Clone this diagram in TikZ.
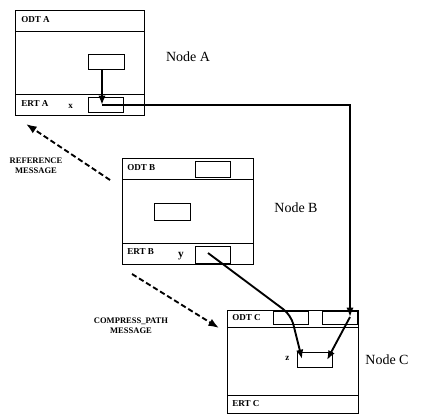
\documentclass[tikz,border=0pt]{standalone}
\usepackage{fontspec}
\setmainfont{Liberation Serif}
\usetikzlibrary{arrows.meta}
\begin{document}
\begin{tikzpicture}[x=0.75pt,y=-0.75pt,
  frame/.style={draw=black,line width=0.7pt},
  sbox/.style={draw=black,line width=0.7pt,inner sep=0pt},
  conn/.style={draw=black,line width=1.4pt,-{Latex[length=7pt,width=5.5pt]}},
  msg/.style={draw=black,line width=1.4pt,dash pattern=on 4pt off 2.2pt,-{Latex[length=8pt,width=6pt]}},
  tag/.style={font=\fontsize{6.8}{7}\selectfont\bfseries,inner sep=0pt,anchor=west},
  nlab/.style={font=\fontsize{10.5}{12}\selectfont,inner sep=0pt},
  mlab/.style={font=\fontsize{6.4}{7.4}\selectfont\bfseries,inner sep=0pt,align=center}]
\useasboundingbox (0,0) rectangle (432,414);
% ---------- Node A ----------
\draw[frame] (15,10) rectangle (144,115);
\draw[frame] (15,31) -- (144,31);
\draw[frame] (15,94) -- (144,94);
\draw[sbox] (88,54) rectangle (124,69);
\draw[sbox] (88,97) rectangle (123,112);
\node[tag] (odta) at (21,20) {ODT A};
\node[tag] (erta) at (21,104) {ERT A};
\node[tag] (xl) at (68,106) {x};
\node[nlab] (na) at (188,57) {Node A};
% ---------- Node B ----------
\draw[frame] (122,158) rectangle (253,264);
\draw[frame] (122,179) -- (253,179);
\draw[frame] (122,243) -- (253,243);
\draw[sbox] (195,161) rectangle (230,177);
\draw[sbox] (154,203) rectangle (190,220);
\draw[sbox] (195,246) rectangle (230,263);
\node[tag] (odtb) at (127,168) {ODT B};
\node[tag] (ertb) at (127,252) {ERT B};
\node[inner sep=0pt,font=\fontsize{8.5}{9}\selectfont\bfseries] (yl) at (181,256) {y};
\node[nlab] (nb) at (296,208) {Node B};
% ---------- Node C ----------
\draw[frame] (227,310) rectangle (358,413);
\draw[frame] (227,327) -- (358,327);
\draw[frame] (227,395) -- (358,395);
\draw[sbox] (273,311) rectangle (308,324);
\draw[sbox] (322,311) rectangle (357,324);
\draw[sbox] (297,352) rectangle (332,367);
\node[tag] (odtc) at (232,318) {ODT C};
\node[tag] (ertc) at (232,404) {ERT C};
\node[tag] (zl) at (285,358) {z};
\node[nlab] (nc) at (387,360) {Node C};
% ---------- message labels ----------
\node[mlab] (refl) at (36,166) {REFERENCE\\MESSAGE};
\node[mlab] (cpl) at (131,326) {COMPRESS\_PATH\\MESSAGE};
% ---------- connector points ----------
\coordinate (pA1) at (102,69);
\coordinate (pA2) at (102,105);
\coordinate (pCorner) at (350,105);
\coordinate (pC2) at (350,317);
\coordinate (pZ2) at (327,360);
\coordinate (pB) at (208,253);
\coordinate (pBend) at (291,315);
\coordinate (pZ1) at (302,359);
\coordinate (rt) at (110,180);
\coordinate (rh) at (26,124);
\coordinate (ct) at (132,274);
\coordinate (ch) at (219,328);
% ---------- connectors ----------
\draw[conn] (pA1) -- (pA2);
\draw[conn] (pA2) -- (pCorner) -- (pC2);
\draw[conn] (pC2) -- (pZ2);
\draw[conn,rounded corners=7pt] (pB) -- (pBend) -- (pZ1);
\draw[msg] (rt) -- (rh);
\draw[msg] (ct) -- (ch);
\end{tikzpicture}
\end{document}
